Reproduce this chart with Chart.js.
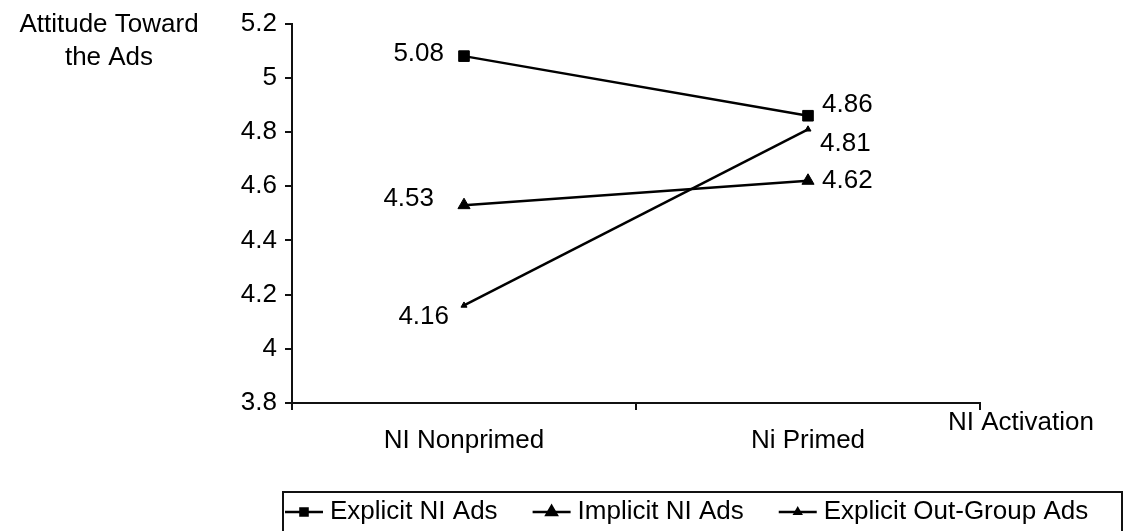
<!DOCTYPE html>
<html>
<head>
<meta charset="utf-8">
<script src="https://cdn.jsdelivr.net/npm/chart.js@4.4.1/dist/chart.umd.min.js"></script>
<style>
  html, body { margin: 0; padding: 0; background: #fff; }
</style>
</head>
<body>
<canvas id="chart" width="1125" height="531"></canvas>
<script>
const categories = ['NI Nonprimed', 'Ni Primed'];
const seriesNames = ['Explicit NI Ads', 'Implicit NI Ads', 'Explicit Out-Group Ads'];
const explicitNI = [5.08, 4.86];
const implicitNI = [4.53, 4.62];
const explicitOutGroup = [4.16, 4.81];
const yTickValues = [3.8, 4.0, 4.2, 4.4, 4.6, 4.8, 5.0, 5.2];
const yTitle = ['Attitude Toward', 'the Ads'];
const xTitle = 'NI Activation';

// value label offsets from each point: [dx, dy, align]
const labelPlacement = [
  [[-20, -2, 'right'], [14, -11, 'left']],
  [[-30, -6, 'right'], [14, 0, 'left']],
  [[-15, 11, 'right'], [12, 15, 'left']]
];

const FAMILY = "'Liberation Sans', Arial, sans-serif";
const SIZE = 26;
const INK = '#111';

const annotate = {
  id: 'annotate',
  afterDraw(chart) {
    const ctx = chart.ctx;
    const xs = chart.scales.x, ys = chart.scales.y;
    ctx.save();
    ctx.fillStyle = '#000';
    ctx.font = SIZE + 'px ' + FAMILY;

    // point values
    ctx.textBaseline = 'middle';
    chart.data.datasets.forEach((ds, i) => {
      ds.data.forEach((v, j) => {
        const p = labelPlacement[i][j];
        ctx.textAlign = p[2];
        ctx.fillText(String(v), xs.getPixelForValue(j) + p[0], ys.getPixelForValue(v) + p[1]);
      });
    });

    // axis titles
    ctx.textBaseline = 'alphabetic';
    ctx.textAlign = 'center';
    ctx.fillText(yTitle[0], 109, 32);
    ctx.fillText(yTitle[1], 109, 65);
    ctx.textAlign = 'left';
    ctx.fillText(xTitle, xs.right - 32, 430);

    // legend box
    ctx.strokeStyle = INK;
    ctx.lineWidth = 2;
    ctx.strokeRect(283, 492, 839, 60);

    let lx = 285;
    const ly = 512;
    ctx.textBaseline = 'middle';
    chart.data.datasets.forEach((ds) => {
      ctx.strokeStyle = ds.borderColor;
      ctx.lineWidth = ds.borderWidth;
      ctx.beginPath();
      ctx.moveTo(lx, ly);
      ctx.lineTo(lx + 38, ly);
      ctx.stroke();
      ctx.fillStyle = '#000';
      ctx.strokeStyle = '#000';
      Chart.helpers.drawPoint(ctx, {
        pointStyle: ds.pointStyle, radius: ds.legendRadius, borderWidth: 1, rotation: 0
      }, lx + 19, ly);
      ctx.fillText(ds.label, lx + 45, ly);
      lx += 45 + ctx.measureText(ds.label).width + 35;
    });
    ctx.restore();
  }
};

function series(name, values, style, radius, legendRadius) {
  return {
    label: name,
    data: values,
    borderColor: '#000',
    borderWidth: 2.5,
    pointStyle: style,
    pointRadius: radius,
    pointBackgroundColor: '#000',
    pointBorderColor: '#000',
    pointBorderWidth: 1,
    legendRadius: legendRadius,
    tension: 0,
    fill: false
  };
}

new Chart(document.getElementById('chart'), {
  type: 'line',
  data: {
    labels: categories,
    datasets: [
      series(seriesNames[0], explicitNI, 'rect', 7.5, 5),
      series(seriesNames[1], implicitNI, 'triangle', 7, 6),
      series(seriesNames[2], explicitOutGroup, 'triangle', 3.5, 3.5)
    ]
  },
  options: {
    responsive: false,
    animation: false,
    devicePixelRatio: 1,
    layout: { padding: { top: 21, right: 145, left: 0, bottom: 0 } },
    plugins: {
      legend: { display: false },
      tooltip: { enabled: false }
    },
    scales: {
      x: {
        type: 'category',
        offset: true,
        grid: { offset: true, drawOnChartArea: false, drawTicks: true, tickLength: 7, color: INK, lineWidth: 2 },
        border: { display: true, color: INK, width: 2 },
        ticks: { color: '#000', font: { family: FAMILY, size: SIZE }, padding: 15, maxRotation: 0 },
        afterFit(s) { s.height = 128; }
      },
      y: {
        min: 3.8,
        max: 5.2,
        afterBuildTicks(s) { s.ticks = yTickValues.map(v => ({ value: v })); },
        grid: { drawOnChartArea: false, drawTicks: true, tickLength: 7, color: INK, lineWidth: 2 },
        border: { display: true, color: INK, width: 2 },
        ticks: { color: '#000', font: { family: FAMILY, size: SIZE }, padding: 8, callback: v => String(v) },
        afterFit(s) { s.width = 292; }
      }
    }
  },
  plugins: [annotate]
});
</script>
</body>
</html>
